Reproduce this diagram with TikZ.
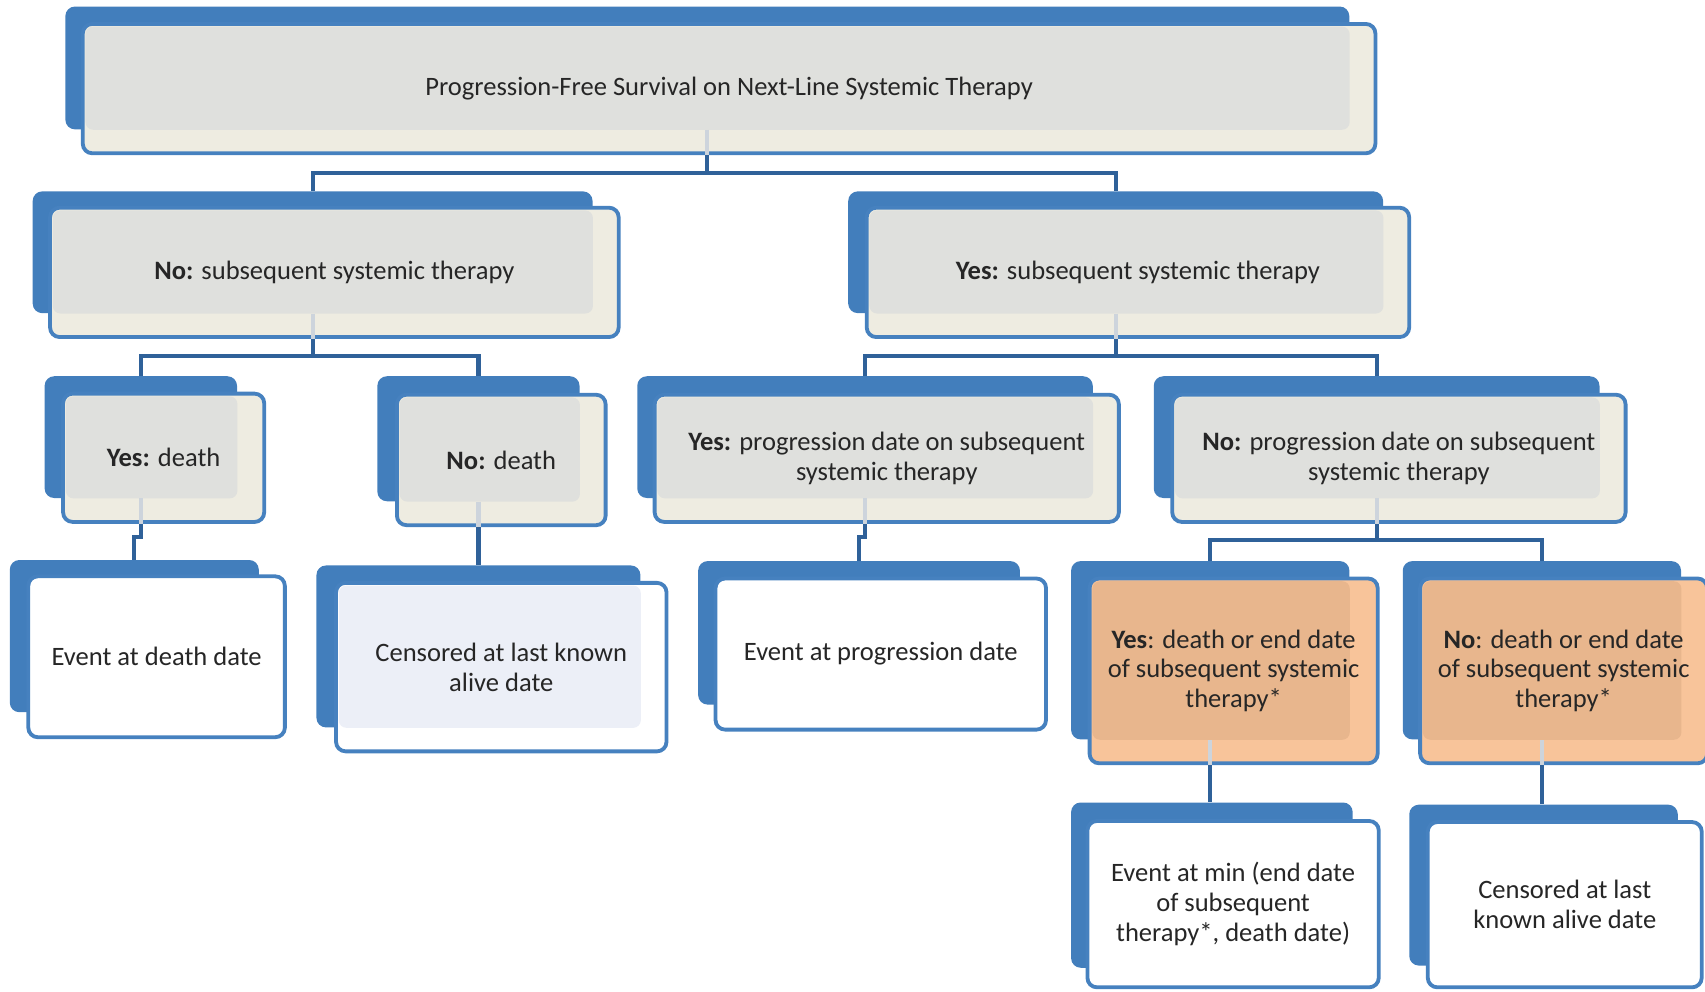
\documentclass[tikz,border=0pt]{standalone}
\usepackage{fontspec}
\setmainfont{Carlito}
\usepackage{tikz}
\usetikzlibrary{calc}

\definecolor{boxblue}{HTML}{427EBC}
\definecolor{edgeblue}{HTML}{4681BF}
\definecolor{linkblue}{HTML}{2F6199}
\definecolor{stubgray}{HTML}{CDD4DC}
\definecolor{cream}{HTML}{EEECE1}
\definecolor{creamdark}{HTML}{DFE0DD}
\definecolor{peach}{HTML}{F8C49A}
\definecolor{peachdark}{HTML}{E8B68D}
\definecolor{paleblue}{HTML}{ECEFF7}
\definecolor{ink}{HTML}{262626}

\begin{document}
\begin{tikzpicture}[x=0.02cm,y=-0.02cm,
  backbox/.style={fill=boxblue,rounded corners=5pt,inner sep=0pt},
  frontbox/.style n args={3}{draw=edgeblue,line width=2pt,fill=#1,rounded corners=5pt,
    inner sep=0pt,align=center,text=ink,font=\fontsize{13.9}{15.6}\selectfont,
    path picture={\fill[#2,rounded corners=4pt]
      ($(path picture bounding box.north west)+(0.05cm,-0.05cm)$) rectangle (#3.south east);}},
  link/.style={draw=linkblue,line width=2.2pt},
  stub/.style={draw=stubgray,line width=2.2pt}
]
  \useasboundingbox (0,0) rectangle (1568,912);

  \node[backbox,minimum width=23.62cm,minimum height=2.26cm] (pfsbk) at (650.5,62.5) {};
  \node[frontbox={cream}{creamdark}{pfsbk},minimum width=23.78cm,minimum height=2.38cm] (pfs) at (670.5,81.5)
    {Progression-Free Survival on Next-Line Systemic Therapy};

  \node[backbox,minimum width=10.30cm,minimum height=2.24cm] (nosubbk) at (287.5,232) {};
  \node[frontbox={cream}{creamdark}{nosubbk},minimum width=10.46cm,minimum height=2.38cm] (nosub) at (307.5,250.5)
    {\textbf{No:} subsequent systemic therapy};
  \node[backbox,minimum width=9.84cm,minimum height=2.24cm] (yessubbk) at (1026,232) {};
  \node[frontbox={cream}{creamdark}{yessubbk},minimum width=9.98cm,minimum height=2.38cm] (yessub) at (1046.5,250.5)
    {\textbf{Yes:} subsequent systemic therapy};

  \node[backbox,minimum width=3.54cm,minimum height=2.24cm] (ydeathbk) at (129.5,402) {};
  \node[frontbox={cream}{creamdark}{ydeathbk},minimum width=3.70cm,minimum height=2.36cm] (ydeath) at (150.5,421)
    {\textbf{Yes:} death};
  \node[backbox,minimum width=3.72cm,minimum height=2.30cm] (ndeathbk) at (440,403.5) {};
  \node[frontbox={cream}{creamdark}{ndeathbk},minimum width=3.84cm,minimum height=2.40cm] (ndeath) at (461,423)
    {\textbf{No:} death};
  \node[backbox,minimum width=8.38cm,minimum height=2.24cm] (yprogbk) at (795.5,402) {};
  \node[frontbox={cream}{creamdark}{yprogbk},minimum width=8.54cm,minimum height=2.34cm] (yprog) at (815.5,421.5)
    {\textbf{Yes:} progression date on subsequent\\systemic therapy};
  \node[backbox,minimum width=8.20cm,minimum height=2.24cm] (nprogbk) at (1266,402) {};
  \node[frontbox={cream}{creamdark}{nprogbk},minimum width=8.34cm,minimum height=2.34cm] (nprog) at (1286.5,421.5)
    {\textbf{No:} progression date on subsequent\\systemic therapy};

  \node[backbox,minimum width=4.58cm,minimum height=2.80cm] (evdeathbk) at (123.5,585) {};
  \node[frontbox={white}{white}{evdeathbk},minimum width=4.72cm,minimum height=2.96cm] (evdeath) at (144,604)
    {Event at death date};
  \node[backbox,minimum width=5.96cm,minimum height=2.98cm] (censabk) at (440,594.5) {};
  \node[frontbox={white}{paleblue}{censabk},minimum width=6.08cm,minimum height=3.10cm] (censa) at (461,613.5)
    {Censored at last known\\alive date};
  \node[backbox,minimum width=5.92cm,minimum height=2.64cm] (evprogbk) at (790,582) {};
  \node[frontbox={white}{white}{evprogbk},minimum width=6.08cm,minimum height=2.78cm] (evprog) at (810,601.5)
    {Event at progression date};
  \node[backbox,minimum width=5.12cm,minimum height=3.28cm] (yendbk) at (1113,598) {};
  \node[frontbox={peach}{peachdark}{yendbk},minimum width=5.30cm,minimum height=3.40cm] (yend) at (1134.5,617)
    {\textbf{Yes}: death or end date\\of subsequent systemic\\therapy*};
  \node[backbox,minimum width=5.12cm,minimum height=3.28cm] (nendbk) at (1418,598) {};
  \node[frontbox={peach}{peachdark}{nendbk},minimum width=5.28cm,minimum height=3.40cm] (nend) at (1438,617)
    {\textbf{No}: death or end date\\of subsequent systemic\\therapy*};

  \node[backbox,minimum width=5.18cm,minimum height=3.04cm] (evminbk) at (1114.5,814) {};
  \node[frontbox={white}{white}{evminbk},minimum width=5.36cm,minimum height=3.06cm] (evmin) at (1134,831.5)
    {Event at min (end date\\of subsequent\\therapy*, death date)};
  \node[backbox,minimum width=4.94cm,minimum height=2.96cm] (censbbk) at (1419.5,814) {};
  \node[frontbox={white}{white}{censbbk},minimum width=5.04cm,minimum height=3.04cm] (censb) at (1439,832)
    {Censored at last\\known alive date};

  \draw[stub] (pfsbk.south) -- (pfsbk |- pfs.south);
  \draw[link] (pfsbk |- pfs.south) -- ++(0,16) coordinate (pfsjoin);
  \draw[link] (nosubbk.north) |- (pfsjoin) -| (yessubbk.north);

  \draw[stub] (nosubbk.south) -- (nosubbk |- nosub.south);
  \draw[link] (nosubbk |- nosub.south) -- ++(0,16) coordinate (nosubjoin);
  \draw[link] (ydeathbk.north) |- (nosubjoin) -| (ndeathbk.north);

  \draw[stub] (yessubbk.south) -- (yessubbk |- yessub.south);
  \draw[link] (yessubbk |- yessub.south) -- ++(0,16) coordinate (yessubjoin);
  \draw[link] (yprogbk.north) |- (yessubjoin) -| (nprogbk.north);

  \draw[stub] (ydeathbk.south) -- (ydeathbk |- ydeath.south);
  \draw[link] (ydeathbk |- ydeath.south) -- ++(0,12) -| (evdeathbk.north);

  \draw[stub] (ndeathbk.south) -- (ndeathbk |- ndeath.south);
  \draw[link] (ndeathbk |- ndeath.south) -- (censabk.north);

  \draw[stub] (yprogbk.south) -- (yprogbk |- yprog.south);
  \draw[link] (yprogbk |- yprog.south) -- ++(0,12) -| (evprogbk.north);

  \draw[stub] (nprogbk.south) -- (nprogbk |- nprog.south);
  \draw[link] (nprogbk |- nprog.south) -- ++(0,15) coordinate (nprogjoin);
  \draw[link] (yendbk.north) |- (nprogjoin) -| (nendbk.north);

  \draw[stub] (yendbk.south) -- (yendbk |- yend.south);
  \draw[link] (yendbk |- yend.south) -- (yendbk |- evminbk.north);

  \draw[stub] (nendbk.south) -- (nendbk |- nend.south);
  \draw[link] (nendbk |- nend.south) -- (nendbk |- censbbk.north);
\end{tikzpicture}
\end{document}
